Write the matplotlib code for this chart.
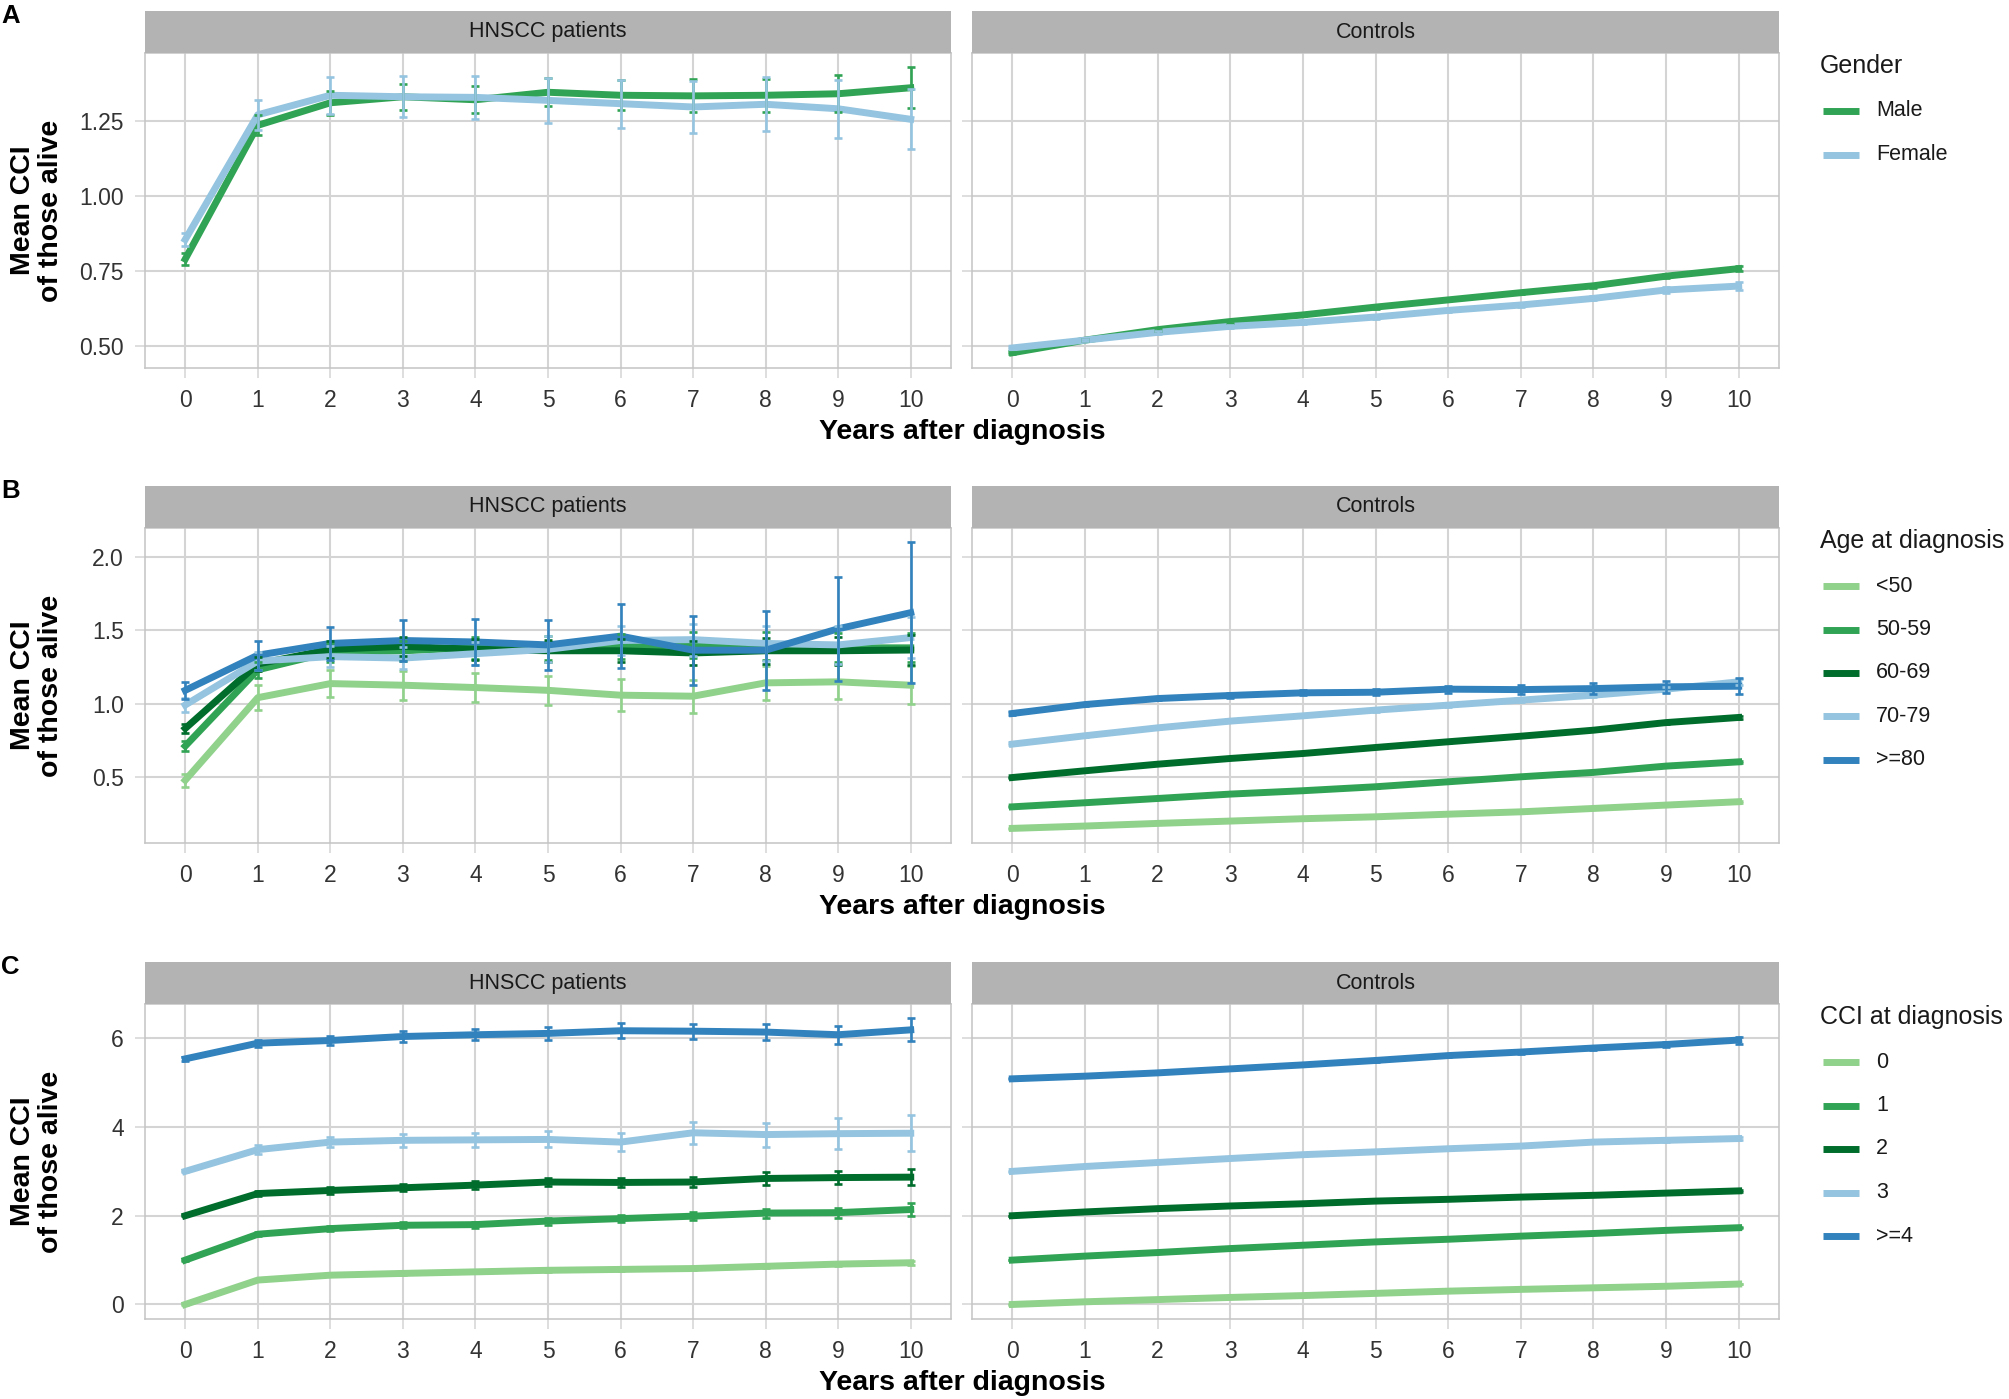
import matplotlib
matplotlib.use("Agg")
import matplotlib.pyplot as plt
from matplotlib.lines import Line2D
import numpy as np

plt.rcParams["font.family"] = ["Liberation Sans", "DejaVu Sans"]

years = np.arange(0, 11)
facets = ["HNSCC patients", "Controls"]

# ---- A: gender ----
gender_labels = ["Male", "Female"]
gender_hnscc = [
    [0.79, 1.235, 1.31, 1.33, 1.32, 1.345, 1.335, 1.333, 1.335, 1.34, 1.36],
    [0.855, 1.27, 1.335, 1.33, 1.328, 1.318, 1.307, 1.296, 1.305, 1.29, 1.255],
]
gender_hnscc_err = [
    [0.02, 0.033, 0.04, 0.043, 0.045, 0.047, 0.05, 0.055, 0.055, 0.062, 0.068],
    [0.022, 0.05, 0.062, 0.068, 0.072, 0.074, 0.08, 0.085, 0.09, 0.097, 0.1],
]
gender_ctrl = [
    [0.478, 0.52, 0.555, 0.582, 0.604, 0.63, 0.654, 0.678, 0.701, 0.733, 0.758],
    [0.494, 0.52, 0.546, 0.566, 0.579, 0.597, 0.619, 0.637, 0.659, 0.687, 0.70],
]
gender_ctrl_err = [
    [0.003, 0.003, 0.004, 0.004, 0.004, 0.005, 0.005, 0.006, 0.006, 0.007, 0.008],
    [0.003, 0.003, 0.004, 0.004, 0.005, 0.005, 0.006, 0.006, 0.007, 0.009, 0.012],
]

# ---- B: age at diagnosis ----
age_labels = ["<50", "50-59", "60-69", "70-79", ">=80"]
age_hnscc = [
    [0.477, 1.04, 1.136, 1.125, 1.109, 1.09, 1.057, 1.05, 1.141, 1.148, 1.125],
    [0.71, 1.23, 1.35, 1.36, 1.38, 1.38, 1.39, 1.40, 1.39, 1.38, 1.38],
    [0.83, 1.27, 1.37, 1.39, 1.37, 1.36, 1.36, 1.345, 1.36, 1.36, 1.365],
    [0.99, 1.29, 1.32, 1.31, 1.34, 1.37, 1.43, 1.436, 1.41, 1.40, 1.45],
    [1.09, 1.33, 1.41, 1.43, 1.42, 1.40, 1.46, 1.364, 1.364, 1.51, 1.62],
]
age_hnscc_err = [
    [0.045, 0.085, 0.09, 0.1, 0.1, 0.1, 0.107, 0.112, 0.115, 0.12, 0.13],
    [0.035, 0.055, 0.065, 0.07, 0.075, 0.08, 0.085, 0.09, 0.095, 0.1, 0.1],
    [0.032, 0.05, 0.06, 0.065, 0.07, 0.075, 0.08, 0.085, 0.09, 0.095, 0.1],
    [0.05, 0.06, 0.07, 0.075, 0.08, 0.09, 0.1, 0.11, 0.12, 0.13, 0.14],
    [0.06, 0.1, 0.11, 0.14, 0.155, 0.17, 0.22, 0.235, 0.27, 0.355, 0.48],
]
age_ctrl = [
    [0.148, 0.164, 0.182, 0.198, 0.214, 0.227, 0.245, 0.261, 0.284, 0.307, 0.33],
    [0.295, 0.323, 0.352, 0.382, 0.405, 0.432, 0.466, 0.50, 0.53, 0.573, 0.602],
    [0.495, 0.541, 0.586, 0.625, 0.659, 0.70, 0.739, 0.777, 0.818, 0.87, 0.905],
    [0.723, 0.78, 0.834, 0.88, 0.916, 0.955, 0.989, 1.023, 1.057, 1.098, 1.148],
    [0.932, 0.993, 1.034, 1.055, 1.073, 1.077, 1.098, 1.095, 1.102, 1.114, 1.118],
]
age_ctrl_err = [
    [0.002, 0.002, 0.002, 0.003, 0.003, 0.003, 0.004, 0.004, 0.005, 0.005, 0.006],
    [0.003, 0.003, 0.003, 0.004, 0.004, 0.005, 0.005, 0.006, 0.006, 0.007, 0.008],
    [0.004, 0.004, 0.005, 0.005, 0.006, 0.006, 0.007, 0.007, 0.008, 0.009, 0.01],
    [0.005, 0.006, 0.007, 0.008, 0.009, 0.01, 0.012, 0.013, 0.015, 0.017, 0.02],
    [0.01, 0.01, 0.012, 0.015, 0.018, 0.02, 0.025, 0.03, 0.035, 0.04, 0.055],
]

# ---- C: CCI at diagnosis ----
cci_labels = ["0", "1", "2", "3", ">=4"]
cci_hnscc = [
    [0.0, 0.55, 0.66, 0.70, 0.735, 0.77, 0.79, 0.81, 0.86, 0.91, 0.94],
    [1.0, 1.583, 1.71, 1.785, 1.80, 1.88, 1.935, 1.99, 2.06, 2.07, 2.14],
    [2.0, 2.50, 2.57, 2.63, 2.69, 2.76, 2.75, 2.76, 2.84, 2.86, 2.87],
    [3.0, 3.49, 3.66, 3.70, 3.71, 3.72, 3.66, 3.87, 3.83, 3.85, 3.86],
    [5.536, 5.89, 5.95, 6.04, 6.08, 6.11, 6.17, 6.16, 6.14, 6.08, 6.19],
]
cci_hnscc_err = [
    [0.005, 0.02, 0.02, 0.025, 0.025, 0.03, 0.03, 0.035, 0.035, 0.04, 0.045],
    [0.01, 0.05, 0.06, 0.065, 0.07, 0.08, 0.085, 0.09, 0.1, 0.11, 0.15],
    [0.01, 0.06, 0.07, 0.08, 0.09, 0.1, 0.11, 0.12, 0.14, 0.15, 0.18],
    [0.01, 0.1, 0.12, 0.15, 0.16, 0.18, 0.2, 0.25, 0.27, 0.35, 0.4],
    [0.05, 0.08, 0.1, 0.12, 0.13, 0.15, 0.17, 0.17, 0.18, 0.2, 0.26],
]
cci_ctrl = [
    [0.0, 0.06, 0.11, 0.158, 0.2, 0.25, 0.30, 0.34, 0.375, 0.41, 0.46],
    [1.0, 1.09, 1.17, 1.26, 1.335, 1.41, 1.47, 1.54, 1.60, 1.67, 1.73],
    [2.0, 2.085, 2.16, 2.22, 2.27, 2.33, 2.37, 2.42, 2.46, 2.51, 2.56],
    [3.0, 3.11, 3.20, 3.29, 3.376, 3.44, 3.51, 3.57, 3.66, 3.70, 3.74],
    [5.086, 5.146, 5.22, 5.31, 5.40, 5.50, 5.61, 5.69, 5.78, 5.86, 5.96],
]
cci_ctrl_err = [
    [0.002, 0.003, 0.003, 0.004, 0.004, 0.005, 0.005, 0.006, 0.006, 0.007, 0.008],
    [0.004, 0.005, 0.006, 0.007, 0.008, 0.009, 0.01, 0.011, 0.012, 0.014, 0.016],
    [0.005, 0.006, 0.007, 0.008, 0.009, 0.01, 0.012, 0.013, 0.015, 0.017, 0.02],
    [0.008, 0.01, 0.012, 0.014, 0.016, 0.018, 0.02, 0.024, 0.028, 0.033, 0.04],
    [0.015, 0.02, 0.02, 0.025, 0.03, 0.035, 0.04, 0.045, 0.05, 0.06, 0.08],
]

GREEN_LIGHT = "#90d18b"
GREEN = "#31a354"
GREEN_DARK = "#006d2c"
BLUE_LIGHT = "#94c4df"
BLUE = "#3182bd"

rows = [
    dict(letter="A", title="Gender", labels=gender_labels, colors=[GREEN, BLUE_LIGHT],
         data=[(gender_hnscc, gender_hnscc_err), (gender_ctrl, gender_ctrl_err)],
         yticks=[0.5, 0.75, 1.0, 1.25], yfmt="{:.2f}", top=11),
    dict(letter="B", title="Age at diagnosis", labels=age_labels,
         colors=[GREEN_LIGHT, GREEN, GREEN_DARK, BLUE_LIGHT, BLUE],
         data=[(age_hnscc, age_hnscc_err), (age_ctrl, age_ctrl_err)],
         yticks=[0.5, 1.0, 1.5, 2.0], yfmt="{:.1f}", top=486),
    dict(letter="C", title="CCI at diagnosis", labels=cci_labels,
         colors=[GREEN_LIGHT, GREEN, GREEN_DARK, BLUE_LIGHT, BLUE],
         data=[(cci_hnscc, cci_hnscc_err), (cci_ctrl, cci_ctrl_err)],
         yticks=[0, 2, 4, 6], yfmt="{:.0f}", top=962),
]

W, H = 2009, 1399
fig = plt.figure(figsize=(W / 100, H / 100), dpi=100)


def box(x0, y0, x1, y1):
    return [x0 / W, 1 - y1 / H, (x1 - x0) / W, (y1 - y0) / H]


panel_x = [(145, 951), (972, 1779)]
STRIP_H = 42
PLOT_H = 315
GRID = "#d4d4d4"
LW = 5.0

for row in rows:
    strip_top = row["top"]
    strip_bot = strip_top + STRIP_H
    plot_bot = strip_bot + PLOT_H

    # shared y range, ggplot style 5% expansion
    lo = min(np.min(np.array(v) - np.array(e)) for v, e in row["data"])
    hi = max(np.max(np.array(v) + np.array(e)) for v, e in row["data"])
    pad = (hi - lo) * 0.05
    ylim = (lo - pad, hi + pad)
    xlim = (-0.05 - 0.505, 10.05 + 0.505)

    for i, (facet, (vals, errs)) in enumerate(zip(facets, row["data"])):
        x0, x1 = panel_x[i]
        ax = fig.add_axes(box(x0, strip_bot, x1, plot_bot))
        for k, (v, e) in enumerate(zip(vals, errs)):
            ax.plot(years, v, color=row["colors"][k], lw=LW, zorder=3 + k,
                    solid_joinstyle="round")
        for k, (v, e) in enumerate(zip(vals, errs)):
            ax.errorbar(years, v, yerr=e, fmt="none", ecolor=row["colors"][k],
                        elinewidth=1.9, capsize=2.8, capthick=1.9, zorder=10 + k)
        ax.set_xlim(xlim)
        ax.set_ylim(ylim)
        ax.set_xticks(years)
        ax.set_yticks(row["yticks"])
        if i == 0:
            ax.set_yticklabels([row["yfmt"].format(t) for t in row["yticks"]])
        else:
            ax.tick_params(axis="y", labelleft=False)
        ax.grid(True, color=GRID, lw=1.5, zorder=0)
        ax.set_axisbelow(True)
        for s in ax.spines.values():
            s.set_color("#c4c4c4")
            s.set_linewidth(1.1)
        ax.tick_params(length=7.2, width=1.1, color=GRID, pad=8,
                       labelsize=16.5, labelcolor="#333333")

        # facet strip
        st = fig.add_axes(box(x0, strip_top, x1, strip_bot))
        st.set_facecolor("#b3b3b3")
        st.set_xticks([])
        st.set_yticks([])
        for s in st.spines.values():
            s.set_visible(False)
        st.text(0.5, 0.5, facet, ha="center", va="center", fontsize=15.5,
                color="#1a1a1a", transform=st.transAxes)

    # axis titles and panel letter
    fig.text(962 / W, 1 - (plot_bot + 64) / H, "Years after diagnosis",
             ha="center", va="center", fontsize=20.5, fontweight="bold")
    fig.text(37 / W, 1 - ((strip_bot + plot_bot) / 2) / H, "Mean CCI\nof those alive",
             ha="center", va="center", rotation=90, fontsize=20.5, fontweight="bold",
             linespacing=1.1, multialignment="center")
    fig.text(1 / W, 1 - (strip_top + 5) / H, row["letter"], ha="left", va="center",
             fontsize=18.5, fontweight="bold")

    # legend
    title_y = strip_bot + 13
    fig.text(1820 / W, 1 - title_y / H, row["title"], ha="left", va="center",
             fontsize=18, color="#1a1a1a")
    for k, (lab, col) in enumerate(zip(row["labels"], row["colors"])):
        ky = title_y + 45 + 43.5 * k
        fig.add_artist(Line2D([1823 / W, 1859 / W], [1 - ky / H, 1 - ky / H],
                              transform=fig.transFigure, color=col, lw=LW,
                              solid_capstyle="butt"))
        fig.text(1876 / W, 1 - ky / H, lab, ha="left", va="center",
                 fontsize=15.5, color="#1a1a1a")

fig.savefig("out.png", dpi=100, facecolor="white")
